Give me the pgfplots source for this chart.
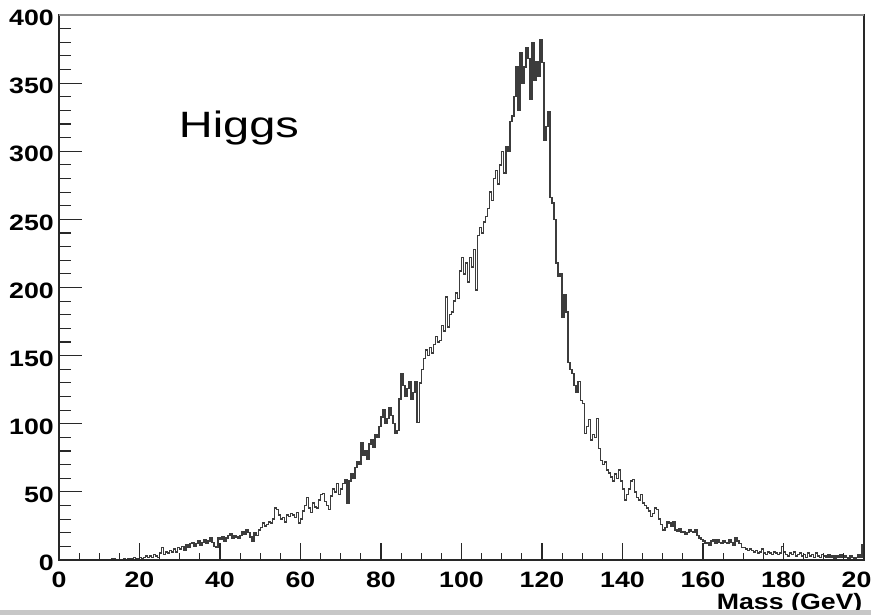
\documentclass[border=0pt]{standalone}
\usepackage{pgfplots}
\pgfplotsset{compat=1.18}
\usepackage{fontspec}
\setmainfont{Liberation Sans}
\newfontfamily\tickfont[FakeStretch=1.2]{Liberation Sans}
\newfontfamily\bigfont[FakeStretch=1.28]{Liberation Sans}
\definecolor{histc}{RGB}{60,60,60}
\definecolor{framec}{RGB}{40,40,40}
\begin{document}
\begin{tikzpicture}
\path[use as bounding box] (0,0) rectangle (653.25pt,461.25pt);
\begin{axis}[
  at={(44.25pt,41.25pt)}, anchor=south west, scale only axis,
  width=603.75pt, height=408.75pt,
  xmin=0, xmax=200, ymin=0, ymax=400,
  xtick=\empty,
  ytick={0,50,...,400}, minor y tick num=4, ytick pos=left,
  tick align=inside, major tick length=17.25pt, minor tick length=9pt,
  every tick/.style={framec, line width=0.9pt},
  axis line style={framec, line width=1.2pt},
  /pgf/number format/assume math mode=true,
  yticklabel style={font=\tickfont\bfseries\fontsize{16.7}{18}\selectfont, anchor=east, inner sep=0pt, xshift=-3.75pt, yshift=-2.25pt},
  clip=true,
]
\addplot[const plot, histc, line width=1.1pt] coordinates {
(0,0) (0.5,0) (1,0) (1.5,0) (2,0) (2.5,0) (3,0) (3.5,0) (4,0) (4.5,0)
(5,0) (5.5,0) (6,0) (6.5,0) (7,0) (7.5,0) (8,0) (8.5,0) (9,0) (9.5,0)
(10,0) (10.5,0) (11,0) (11.5,0) (12,0) (12.5,0) (13,1) (13.5,1) (14,0) (14.5,0)
(15,0) (15.5,0) (16,1) (16.5,0) (17,1) (17.5,1) (18,1) (18.5,2) (19,1) (19.5,1)
(20,2) (20.5,1) (21,2) (21.5,3) (22,2) (22.5,3) (23,2) (23.5,4) (24,3) (24.5,2)
(25,5) (25.5,9) (26,4) (26.5,6) (27,5) (27.5,7) (28,6) (28.5,8) (29,6) (29.5,9)
(30,8) (30.5,10) (31,7) (31.5,11) (32,9) (32.5,12) (33,13) (33.5,10) (34,12) (34.5,14)
(35,11) (35.5,13) (36,15) (36.5,12) (37,14) (37.5,16) (38,13) (38.5,10) (39,9) (39.5,16)
(40,15) (40.5,17) (41,14) (41.5,16) (42,18) (42.5,19) (43,16) (43.5,18) (44,17) (44.5,16)
(45,18) (45.5,21) (46,19) (46.5,22) (47,20) (47.5,17) (48,14) (48.5,20) (49,18) (49.5,22)
(50,24) (50.5,27) (51,25) (51.5,26) (52,28) (52.5,27) (53,30) (53.5,38) (54,37) (54.5,33)
(55,30) (55.5,31) (56,28) (56.5,33) (57,32) (57.5,34) (58,33) (58.5,31) (59,35) (59.5,27)
(60,30) (60.5,36) (61,40) (61.5,46) (62,38) (62.5,35) (63,42) (63.5,39) (64,38) (64.5,44)
(65,48) (65.5,49) (66,43) (66.5,40) (67,37) (67.5,47) (68,52) (68.5,50) (69,56) (69.5,48)
(70,52) (70.5,56) (71,59) (71.5,42) (72,58) (72.5,63) (73,60) (73.5,68) (74,72) (74.5,70)
(75,86) (75.5,77) (76,80) (76.5,74) (77,85) (77.5,88) (78,83) (78.5,92) (79,90) (79.5,98)
(80,105) (80.5,110) (81,100) (81.5,104) (82,112) (82.5,106) (83,100) (83.5,93) (84,95) (84.5,118)
(85,137) (85.5,128) (86,120) (86.5,126) (87,131) (87.5,118) (88,123) (88.5,131) (89,101) (89.5,130)
(90,140) (90.5,148) (91,154) (91.5,150) (92,156) (92.5,152) (93,158) (93.5,164) (94,160) (94.5,161)
(95,172) (95.5,168) (96,193) (96.5,171) (97,180) (97.5,182) (98,190) (98.5,196) (99,192) (99.5,212)
(100,222) (100.5,210) (101,218) (101.5,204) (102,222) (102.5,215) (103,228) (103.5,198) (104,238) (104.5,244)
(105,240) (105.5,248) (106,252) (106.5,258) (107,270) (107.5,264) (108,280) (108.5,286) (109,276) (109.5,290)
(110,300) (110.5,284) (111,303) (111.5,300) (112,322) (112.5,326) (113,340) (113.5,362) (114,330) (114.5,372)
(115,350) (115.5,362) (116,376) (116.5,368) (117,338) (117.5,380) (118,352) (118.5,366) (119,355) (119.5,382)
(120,365) (120.5,308) (121,318) (121.5,329) (122,266) (122.5,262) (123,250) (123.5,218) (124,208) (124.5,210)
(125,178) (125.5,195) (126,182) (126.5,145) (127,140) (127.5,137) (128,128) (128.5,123) (129,131) (129.5,117)
(130,115) (130.5,93) (131,98) (131.5,103) (132,88) (132.5,92) (133,90) (133.5,104) (134,82) (134.5,73)
(135,70) (135.5,72) (136,66) (136.5,64) (137,61) (137.5,58) (138,63) (138.5,60) (139,66) (139.5,58)
(140,52) (140.5,44) (141,48) (141.5,52) (142,58) (142.5,59) (143,50) (143.5,46) (144,44) (144.5,48)
(145,42) (145.5,40) (146,38) (146.5,36) (147,32) (147.5,34) (148,38) (148.5,37) (149,30) (149.5,26)
(150,22) (150.5,24) (151,28) (151.5,27) (152,25) (152.5,28) (153,22) (153.5,21) (154,23) (154.5,20)
(155,21) (155.5,19) (156,20) (156.5,22) (157,21) (157.5,20) (158,22) (158.5,18) (159,16) (159.5,15)
(160,14) (160.5,12) (161,13) (161.5,11) (162,14) (162.5,15) (163,12) (163.5,15) (164,13) (164.5,12)
(165,14) (165.5,13) (166,12) (166.5,15) (167,13) (167.5,11) (168,16) (168.5,14) (169,12) (169.5,9)
(170,9) (170.5,8) (171,7) (171.5,8) (172,7) (172.5,6) (173,7) (173.5,5) (174,6) (174.5,8)
(175,5) (175.5,4) (176,6) (176.5,5) (177,4) (177.5,6) (178,5) (178.5,4) (179,5) (179.5,10)
(180,6) (180.5,4) (181,3) (181.5,5) (182,4) (182.5,6) (183,3) (183.5,4) (184,5) (184.5,3)
(185,4) (185.5,2) (186,5) (186.5,3) (187,4) (187.5,2) (188,5) (188.5,3) (189,2) (189.5,4)
(190,3) (190.5,2) (191,4) (191.5,2) (192,3) (192.5,1) (193,3) (193.5,2) (194,4) (194.5,2)
(195,3) (195.5,2) (196,1) (196.5,3) (197,2) (197.5,1) (198,2) (198.5,4) (199,2) (199.5,11)
(200,11)
};
\end{axis}
\begin{axis}[
  at={(44.25pt,41.25pt)}, anchor=south west, scale only axis,
  width=603.75pt, height=408.75pt,
  xmin=0, xmax=200, ymin=0, ymax=400,
  axis x line*=bottom, hide y axis,
  xtick={0,20,...,200}, minor x tick num=3,
  tick align=inside, major tick length=12.75pt, minor tick length=5.6pt,
  every tick/.style={framec, line width=0.9pt},
  axis line style={framec, line width=1.2pt},
  /pgf/number format/assume math mode=true,
  xticklabel style={font=\tickfont\bfseries\fontsize{16.7}{18}\selectfont, anchor=north, inner sep=0pt, yshift=-9pt},
]
\addplot[draw=none] coordinates {(0,0)};
\end{axis}
\draw[black!45, line width=1.2pt] (44.25pt,450pt) -- (648pt,450pt);
\node[anchor=base west, inner sep=0pt, font=\bigfont\fontsize{27.5}{30}\selectfont] at (134pt,357.75pt) {Higgs};
\node[anchor=base east, inner sep=0pt, font=\tickfont\bfseries\fontsize{16.7}{18}\selectfont] at (647pt,4.5pt) {Mass (GeV)};
\fill[black!22] (0,0) rectangle (653.25pt,3.75pt);
\end{tikzpicture}
\end{document}
